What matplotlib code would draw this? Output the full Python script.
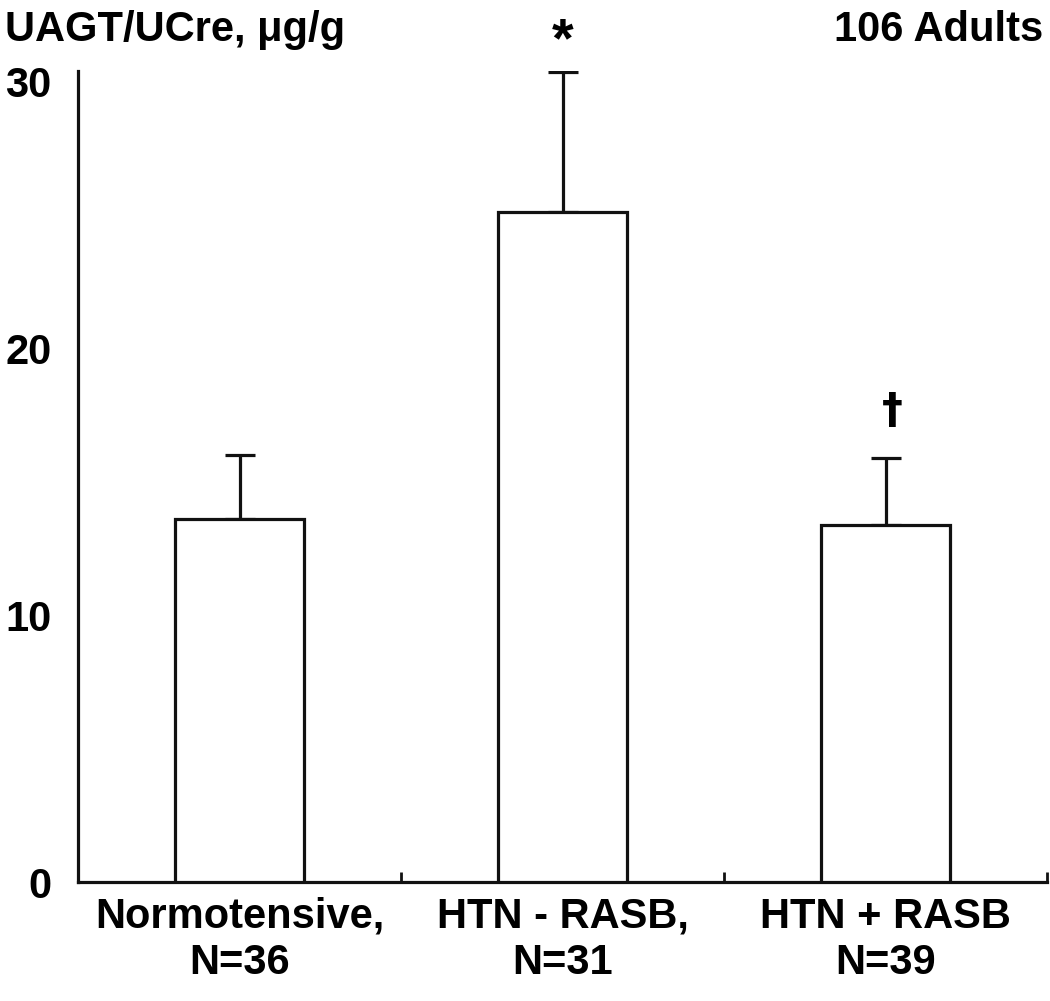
import matplotlib
matplotlib.use("Agg")
import matplotlib.pyplot as plt

categories = ["Normotensive,\nN=36", "HTN - RASB,\nN=31", "HTN + RASB\nN=39"]
means = [13.6, 25.1, 13.4]
sem_upper = [2.4, 5.25, 2.5]
markers = ["", "*", "\u2020"]
yticks = [0, 10, 20, 30]

plt.rcParams['font.family'] = ['Liberation Sans', 'DejaVu Sans']
plt.rcParams['font.weight'] = 'bold'

fig = plt.figure(figsize=(10.5, 10.01), dpi=100)
ax = fig.add_axes([78/1050, 1-882/1001, (1047-78)/1050, (882-71)/1001])

x = list(range(len(categories)))
ax.bar(x, means, width=0.40, color="white", edgecolor="#111111", linewidth=2.3, zorder=3)
ax.errorbar(x, means, yerr=[[0]*len(means), sem_upper], fmt="none", ecolor="#111111",
            elinewidth=2.3, capsize=11, capthick=2.3, zorder=2)

for xi, m, e, t in zip(x, means, sem_upper, markers):
    if t == "*":
        ax.text(xi, m + e + 0.15, t, ha="center", va="bottom",
                fontsize=40, fontweight="bold")
    elif t:
        ax.text(xi + 0.02, m + e + 0.95, t, ha="center", va="bottom",
                fontsize=30, fontweight="bold", family=["DejaVu Sans"])

ax.set_xlim(-0.5, 2.5)
ax.set_ylim(0, 30.4)
for s in ["top", "right"]:
    ax.spines[s].set_visible(False)
for s in ["left", "bottom"]:
    ax.spines[s].set_linewidth(2.3)
    ax.spines[s].set_color("#111111")

ax.set_yticks(yticks)
ax.set_yticklabels([str(v) for v in yticks], fontsize=30, fontweight="bold")
ax.tick_params(axis="y", length=0, pad=19)

ax.set_xticks([0.5, 1.5, 2.5])
ax.set_xticklabels([])
ax.tick_params(axis="x", direction="in", length=7, width=2, color="#111111")
for xi, c in zip(x, categories):
    ax.text(xi, -0.55, c, ha="center", va="top", fontsize=30, fontweight="bold",
            linespacing=1.2, transform=ax.transData)

fig.text(5/1050, 1-10/1001, "UAGT/UCre, \u03bcg/g", ha="left", va="top", fontsize=30, fontweight="bold")
fig.text(1043/1050, 1-10/1001, "106 Adults", ha="right", va="top", fontsize=30, fontweight="bold")

fig.savefig("out.png", dpi=100)
